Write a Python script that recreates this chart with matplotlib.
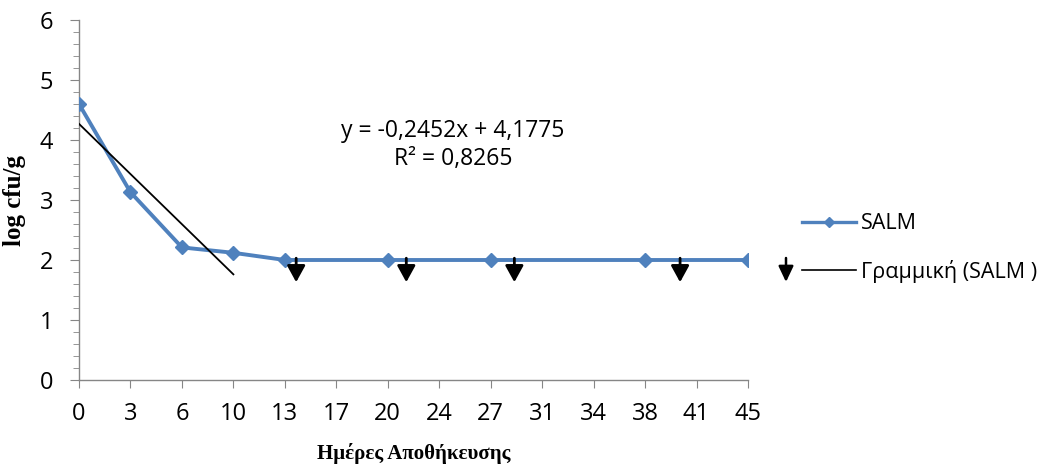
import numpy as np
import matplotlib
matplotlib.use("Agg")
import matplotlib.pyplot as plt
from matplotlib.lines import Line2D

# Storage-day categories shown on the x axis (evenly spaced, categorical)
day_labels = ["0", "3", "6", "10", "13", "17", "20", "24", "27", "31", "34", "38", "41", "45"]

# Sampled days and their Salmonella counts (log cfu/g)
salm_days = ["0", "3", "6", "10", "13", "20", "27", "38", "45"]
salm_log = [4.6, 3.13, 2.21, 2.12, 2.0, 2.0, 2.0, 2.0, 2.0]

# Days used for the linear trend line
trend_days = ["0", "3", "6", "10"]

# "Below detection limit" arrow positions (in category units) and arrow span
limit_arrow_x = [4.22, 6.36, 8.46, 11.68]
limit_arrow_top = 2.03
limit_arrow_tip = 1.63

equation_text = "y = -0,2452x + 4,1775\nR² = 0,8265"

blue = "#4F81BD"
axis_grey = "#868686"

fig = plt.figure(figsize=(10.57, 4.68), dpi=100)
ax = fig.add_axes([79 / 1057, 1 - 380 / 468, (748 - 79) / 1057, 360 / 468])

pos = {d: i for i, d in enumerate(day_labels)}
xs = np.array([pos[d] for d in salm_days], dtype=float)
ys = np.array(salm_log)

ax.plot(xs, ys, color=blue, lw=2.8, marker="D", ms=7, mfc=blue, mec=blue,
        label="SALM", zorder=3, solid_joinstyle="round")

# least-squares trend over the early days
tx = np.array([pos[d] for d in trend_days], dtype=float)
ty = np.array([salm_log[salm_days.index(d)] for d in trend_days])
slope, intercept = np.polyfit(tx, ty, 1)
tline = np.array([tx.min(), tx.max()])
ax.plot(tline, slope * tline + intercept, color="black", lw=1.3,
        label="Γραμμική (SALM )", zorder=4)

arrow_props = dict(arrowstyle="-|>,head_width=0.55,head_length=1.0",
                   color="black", lw=2.0, shrinkA=0, shrinkB=0,
                   mutation_scale=10)
for xa in limit_arrow_x:
    ax.annotate("", xy=(xa, limit_arrow_tip), xytext=(xa, limit_arrow_top),
                arrowprops=arrow_props, zorder=5)

# arrow key beside the legend
key_props = dict(arrow_props, arrowstyle="-|>,head_width=0.45,head_length=0.95",
                 lw=1.8)
fig_arrow_x = 786
ax.annotate("", xy=(fig_arrow_x, 468 - 282), xytext=(fig_arrow_x, 468 - 258),
            xycoords="figure pixels", textcoords="figure pixels",
            arrowprops=key_props, annotation_clip=False)

ax.text(0.559, 0.653, equation_text, transform=ax.transAxes, ha="center",
        va="center", fontsize=16.5, family="Open Sans", linespacing=1.25)

ax.set_xlim(0, len(day_labels) - 1)
ax.set_ylim(0, 6)
ax.set_xticks(range(len(day_labels)))
ax.set_xticklabels(day_labels)
ax.set_yticks(range(7))
ax.set_yticks(np.arange(0, 6.01, 0.2), minor=True)

for side in ("top", "right"):
    ax.spines[side].set_visible(False)
for side in ("left", "bottom"):
    ax.spines[side].set_color(axis_grey)
    ax.spines[side].set_linewidth(1.0)

ax.tick_params(axis="both", which="both", color=axis_grey, labelsize=17,
               labelcolor="black")
ax.tick_params(axis="x", which="major", direction="out", length=6, pad=10)
ax.tick_params(axis="y", which="major", direction="out", length=6.5, pad=12)
ax.tick_params(axis="y", which="minor", direction="out", length=4.5)
for lab in ax.get_xticklabels() + ax.get_yticklabels():
    lab.set_family("Open Sans")

ax.set_xlabel("Ημέρες Αποθήκευσης", family="Liberation Serif", fontweight="bold",
              fontsize=15, labelpad=12)
ax.set_ylabel("log cfu/g", family="Liberation Serif", fontweight="bold",
              fontsize=18, labelpad=10)

handles = [Line2D([], [], color=blue, lw=2.4, marker="D", ms=5),
           Line2D([], [], color="black", lw=1.2)]
fig.legend(handles, ["SALM", "Γραμμική (SALM )"], loc="center left",
           bbox_to_anchor=(802 / 1057, 1 - 248 / 468), frameon=False,
           prop={"family": "Open Sans", "size": 15.5}, handlelength=2.5,
           handletextpad=0.23, labelspacing=1.2, borderpad=0,
           borderaxespad=0)

fig.savefig("out.png", dpi=100, facecolor="white")
